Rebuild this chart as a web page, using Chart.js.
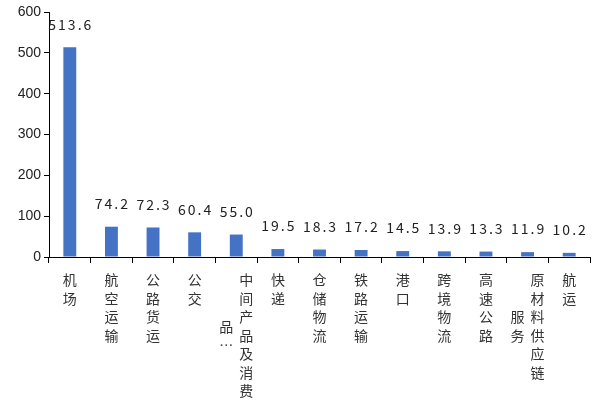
<!DOCTYPE html>
<html>
<head>
<meta charset="utf-8">
<script src="https://cdn.jsdelivr.net/npm/chart.js@4"></script>
<style>
html, body { margin: 0; padding: 0; background: #fff; }
</style>
</head>
<body>
<canvas id="chart" width="595" height="405"></canvas>
<script>
// 类别名称（按列拆分，竖排显示）
const categories = ['机场', '航空运输', '公路货运', '公交', '中间产品及消费品…', '快递', '仓储物流',
    '铁路运输', '港口', '跨境物流', '高速公路', '原材料供应链服务', '航运'];
const labelColumns = [
    ['机场'], ['航空运输'], ['公路货运'], ['公交'], ['中间产品及消费', '品…'], ['快递'], ['仓储物流'],
    ['铁路运输'], ['港口'], ['跨境物流'], ['高速公路'], ['原材料供应链', '服务'], ['航运']
];
const values = [513.6, 74.2, 72.3, 60.4, 55.0, 19.5, 18.3, 17.2, 14.5, 13.9, 13.3, 11.9, 10.2];
const yTicks = [0, 100, 200, 300, 400, 500, 600];

const cjkFont = '"Noto Sans CJK SC", sans-serif';

// 柱顶数值标签
const valueLabelPlugin = {
    id: 'valueLabels',
    afterDatasetsDraw(chart) {
        const ctx = chart.ctx;
        const meta = chart.getDatasetMeta(0);
        ctx.save();
        ctx.font = '14px ' + cjkFont;
        ctx.fillStyle = '#222';
        ctx.textAlign = 'center';
        ctx.textBaseline = 'middle';
        if ('letterSpacing' in ctx) ctx.letterSpacing = '2px';
        meta.data.forEach((bar, i) => {
            ctx.fillText(values[i].toFixed(1), bar.x + 1, bar.y - 23);
        });
        ctx.restore();
    }
};

// x轴竖排文字
const verticalLabelPlugin = {
    id: 'verticalLabels',
    afterDraw(chart) {
        const ctx = chart.ctx;
        const xScale = chart.scales.x;
        const lineH = 18.5;
        const colGap = 20;
        ctx.save();
        ctx.font = '14px ' + cjkFont;
        ctx.fillStyle = '#333';
        ctx.textAlign = 'center';
        ctx.textBaseline = 'middle';
        labelColumns.forEach((cols, i) => {
            const cx = xScale.getPixelForValue(i);
            const top = xScale.top + 23;
            const firstLen = cols[0].length;
            const midY = top + (firstLen - 1) * lineH / 2;
            cols.forEach((col, c) => {
                const chars = Array.from(col);
                const x = cols.length > 1 ? cx + colGap / 2 - c * colGap : cx;
                const startY = c === 0 ? top : midY - (chars.length - 1) * lineH / 2;
                chars.forEach((ch, k) => {
                    ctx.fillText(ch, x, startY + k * lineH);
                });
            });
        });
        ctx.restore();
    }
};

const ctx = document.getElementById('chart').getContext('2d');
new Chart(ctx, {
    type: 'bar',
    data: {
        labels: categories,
        datasets: [{
            data: values,
            backgroundColor: '#4472C4',
            barPercentage: 0.62,
            categoryPercentage: 0.5
        }]
    },
    options: {
        responsive: false,
        animation: false,
        layout: { padding: { top: 12, right: 5, left: 0, bottom: 0 } },
        plugins: {
            legend: { display: false },
            tooltip: { enabled: false }
        },
        scales: {
            x: {
                grid: {
                    offset: true,
                    drawOnChartArea: false,
                    drawTicks: true,
                    tickLength: 6,
                    color: '#000'
                },
                border: { color: '#000', width: 1 },
                ticks: { callback: () => '' },
                afterFit(scale) { scale.height = 148; }
            },
            y: {
                min: 0,
                max: 600,
                afterBuildTicks(scale) {
                    scale.ticks = yTicks.map(v => ({ value: v }));
                },
                grid: {
                    drawOnChartArea: false,
                    drawTicks: true,
                    tickLength: 5,
                    color: '#000'
                },
                border: { color: '#000', width: 1 },
                ticks: {
                    padding: 3,
                    color: '#222',
                    font: { family: '"Liberation Sans", Arial, sans-serif', size: 14 }
                },
                afterFit(scale) { scale.width = 49; }
            }
        }
    },
    plugins: [valueLabelPlugin, verticalLabelPlugin]
});
</script>
</body>
</html>
